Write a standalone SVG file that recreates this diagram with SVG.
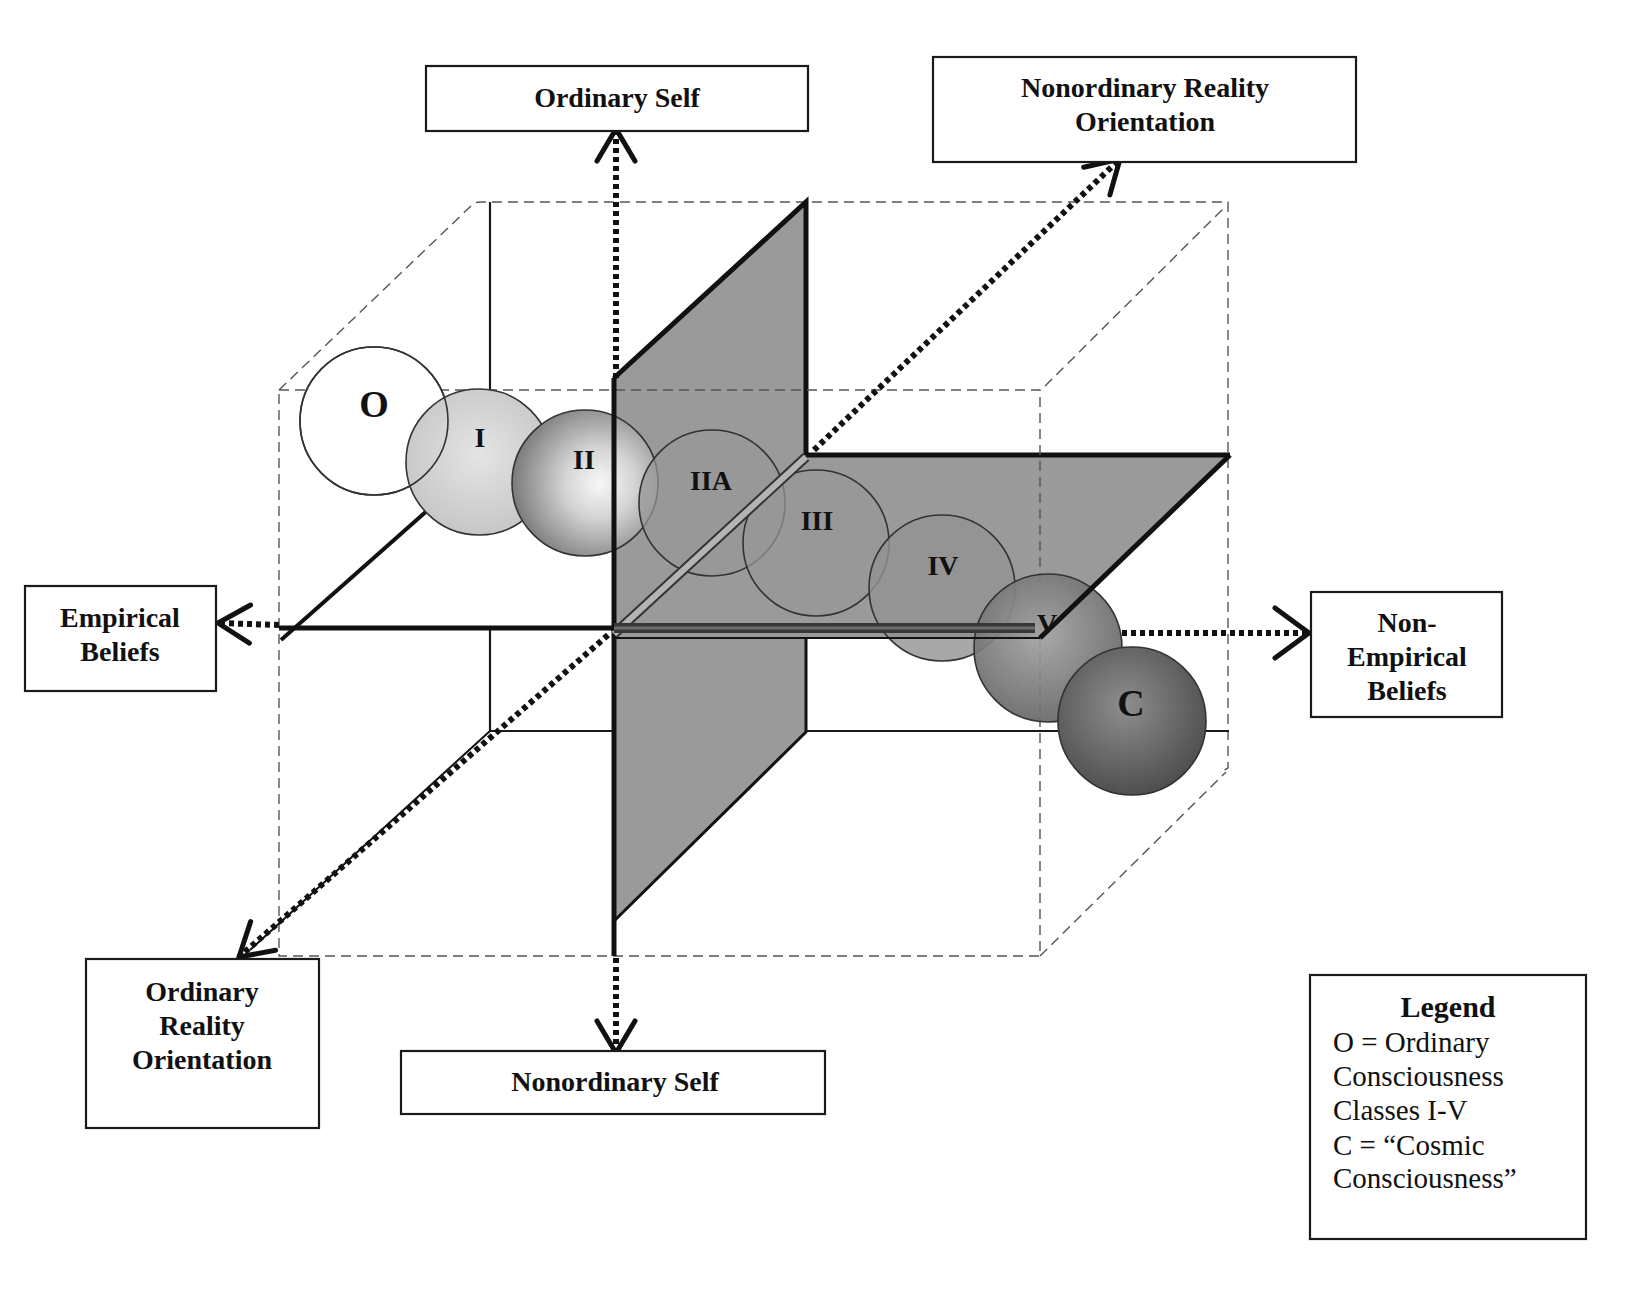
<svg xmlns="http://www.w3.org/2000/svg" width="1651" height="1315" viewBox="0 0 1651 1315">
<style>
.box{fill:#fff;stroke:#1a1a1a;stroke-width:2.2}
.lbl{font-family:"Liberation Serif","Times New Roman",serif;font-weight:bold;font-size:28px;fill:#111;text-anchor:middle}
.leg{font-family:"Liberation Serif","Times New Roman",serif;font-size:29px;fill:#111}
.dash{fill:none;stroke:#555;stroke-width:1.4;stroke-dasharray:10 6}
.thin{fill:none;stroke:#1a1a1a;stroke-width:2.2}
.dot{fill:none;stroke:#111;stroke-width:6;stroke-dasharray:5 4}
.circ{stroke:#333;stroke-width:1.6}
.clbl{font-family:"Liberation Serif","Times New Roman",serif;font-weight:bold;font-size:28px;fill:#111;text-anchor:middle}
.big{font-size:38px}
.plane{fill:#9a9a9a}
</style>
<defs>
<marker id="ah" markerUnits="userSpaceOnUse" markerWidth="50" markerHeight="50" viewBox="-40 -25 45 50" refX="0" refY="0" orient="auto"><path d="M-32,-19 L0,0 L-32,19" fill="none" stroke="#111" stroke-width="5" stroke-linecap="round"/></marker>
<marker id="ahw" markerUnits="userSpaceOnUse" markerWidth="50" markerHeight="60" viewBox="-40 -30 45 60" refX="0" refY="0" orient="auto"><path d="M-34,-25 L0,0 L-34,25" fill="none" stroke="#111" stroke-width="5" stroke-linecap="round"/></marker>
<radialGradient id="gI" cx="0.5" cy="0.45" r="0.6"><stop offset="0" stop-color="#e4e4e4"/><stop offset="1" stop-color="#c4c4c4"/></radialGradient>
<radialGradient id="gII" cx="0.6" cy="0.5" r="0.6"><stop offset="0" stop-color="#f8f8f8"/><stop offset="0.4" stop-color="#d4d4d4"/><stop offset="1" stop-color="#7a7a7a"/></radialGradient>
<radialGradient id="gV" cx="0.45" cy="0.4" r="0.65"><stop offset="0" stop-color="#a2a2a2"/><stop offset="1" stop-color="#626262"/></radialGradient>
<radialGradient id="gC" cx="0.45" cy="0.4" r="0.65"><stop offset="0" stop-color="#8e8e8e"/><stop offset="1" stop-color="#4a4a4a"/></radialGradient>
</defs>
<rect width="1651" height="1315" fill="#fff"/>

<g id="cube">
<path class="dash" d="M279,390 L472,205 Q475,202 480,202 L1228,202 L1228,768 L1222,771"/>
<line class="dash" x1="1045" y1="386" x2="1226" y2="206"/>
<line class="dash" x1="1040" y1="956" x2="1226" y2="772"/>
<path class="thin" d="M490,202 V731 H1229"/>
<polygon points="279,630 614,630 806,455 490,455" fill="#fff"/>
<line x1="281" y1="640" x2="490" y2="455" stroke="#111" stroke-width="4"/>
<polygon class="plane" points="614,378 806,202 806,732 614,921" stroke="#111" stroke-width="3" stroke-linejoin="round"/>
<path d="M614,378 L806,202 V455" fill="none" stroke="#111" stroke-width="5"/>
<polygon class="plane" points="614,630 614,638 1040,638 1230,455 806,455"/>
<path d="M806,455 H1230" fill="none" stroke="#111" stroke-width="5"/>
<rect class="dash" x="279" y="390" width="761" height="566"/>
</g>

<g id="spheres">
<g id="circle-O"><circle cx="374" cy="421" r="74" fill="#fff" class="circ"/></g>
<g id="circle-I"><circle cx="479" cy="462" r="73" fill="url(#gI)" class="circ"/><circle cx="374" cy="421" r="74" fill="none" class="circ"/></g>
<g id="circle-II"><circle cx="585" cy="483" r="73" fill="url(#gII)" class="circ"/></g>
<g id="circle-IIA"><circle cx="712" cy="503" r="73" fill="#979797" fill-opacity="0.7" class="circ"/></g>
<g id="circle-III"><circle cx="816" cy="543" r="73" fill="#979797" fill-opacity="0.7" class="circ"/></g>
<g id="circle-IV"><circle cx="942" cy="588" r="73" fill="#929292" fill-opacity="0.8" class="circ"/></g>
<g id="circle-V"><circle cx="1048" cy="648" r="74" fill="url(#gV)" fill-opacity="0.92" class="circ"/></g>
<g id="circle-C"><circle cx="1132" cy="721" r="74" fill="url(#gC)" class="circ"/></g>
</g>

<g id="overlays">
<line x1="614" y1="378" x2="614" y2="956" stroke="#111" stroke-width="5"/>
<line x1="614" y1="634" x2="806" y2="457" stroke="#333" stroke-width="10"/>
<line x1="614" y1="634" x2="806" y2="457" stroke="#b4b4b4" stroke-width="6"/>
<line x1="279" y1="628" x2="614" y2="628" stroke="#111" stroke-width="5"/>
<line x1="614" y1="628" x2="1035" y2="628" stroke="#383838" stroke-width="10"/>
<line x1="614" y1="628" x2="1035" y2="628" stroke="#6c6c6c" stroke-width="3"/>
<line x1="614" y1="638" x2="1040" y2="638" stroke="#111" stroke-width="2"/>
<line x1="1230" y1="455" x2="1040" y2="638" stroke="#111" stroke-width="5"/>
<line x1="490" y1="731" x2="250" y2="950" stroke="#111" stroke-width="2"/>
</g>

<g id="connectors">
<line class="dot" x1="616" y1="378" x2="616" y2="129" marker-end="url(#ah)"/>
<line class="dot" x1="616" y1="958" x2="616" y2="1053" marker-end="url(#ah)"/>
<line class="dot" x1="279" y1="625" x2="218" y2="623" marker-end="url(#ah)"/>
<line class="dot" x1="1122" y1="633" x2="1309" y2="633" marker-end="url(#ahw)"/>
<line class="dot" x1="814" y1="450" x2="1120" y2="159" marker-end="url(#ah)"/>
<line class="dot" x1="608" y1="635" x2="239" y2="957" marker-end="url(#ah)"/>
</g>

<g id="sphere-labels">
<text class="clbl big" x="374" y="417">O</text>
<text class="clbl" x="480" y="447">I</text>
<text class="clbl" x="584" y="469">II</text>
<text class="clbl" x="711" y="490">IIA</text>
<text class="clbl" x="817" y="530">III</text>
<text class="clbl" x="943" y="575">IV</text>
<text class="clbl" x="1047" y="633">V</text>
<text class="clbl big" x="1131" y="716">C</text>
</g>

<g id="ordinary-self"><rect class="box" x="426" y="66" width="382" height="65"/><text class="lbl" x="617" y="107">Ordinary Self</text></g>
<g id="nonordinary-reality"><rect class="box" x="933" y="57" width="423" height="105"/><text class="lbl" x="1145" y="97">Nonordinary Reality</text><text class="lbl" x="1145" y="131">Orientation</text></g>
<g id="empirical-beliefs"><rect class="box" x="25" y="586" width="191" height="105"/><text class="lbl" x="120" y="627">Empirical</text><text class="lbl" x="120" y="661">Beliefs</text></g>
<g id="non-empirical-beliefs"><rect class="box" x="1311" y="592" width="191" height="125"/><text class="lbl" x="1407" y="632">Non-</text><text class="lbl" x="1407" y="666">Empirical</text><text class="lbl" x="1407" y="700">Beliefs</text></g>
<g id="ordinary-reality"><rect class="box" x="86" y="959" width="233" height="169"/><text class="lbl" x="202" y="1001">Ordinary</text><text class="lbl" x="202" y="1035">Reality</text><text class="lbl" x="202" y="1069">Orientation</text></g>
<g id="nonordinary-self"><rect class="box" x="401" y="1051" width="424" height="63"/><text class="lbl" x="615" y="1091">Nonordinary Self</text></g>
<g id="legend"><rect class="box" x="1310" y="975" width="276" height="264"/>
<text class="lbl" x="1448" y="1017" style="font-size:30px">Legend</text>
<text class="leg" x="1333" y="1052">O = Ordinary</text>
<text class="leg" x="1333" y="1086">Consciousness</text>
<text class="leg" x="1333" y="1120">Classes I-V</text>
<text class="leg" x="1333" y="1155">C = “Cosmic</text>
<text class="leg" x="1333" y="1188">Consciousness”</text>
</g>
</svg>
